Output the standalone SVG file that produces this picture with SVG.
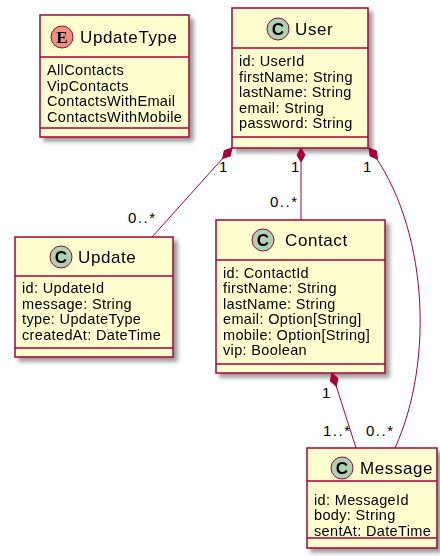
<svg xmlns="http://www.w3.org/2000/svg" width="440" height="556" viewBox="0 0 440 556">
  <defs>
    <filter id="shadow" x="-10%" y="-10%" width="130%" height="130%">
      <feGaussianBlur in="SourceAlpha" stdDeviation="2.2"/>
      <feOffset dx="4" dy="4" result="b"/>
      <feComponentTransfer><feFuncA type="linear" slope="0.4"/></feComponentTransfer>
      <feMerge><feMergeNode/><feMergeNode in="SourceGraphic"/></feMerge>
    </filter>
    <path id="diamond" d="M0,0 L7,-4 L14,0 L7,4 Z"/>
  </defs>
  <style>
    .box { fill: #FEFECE; stroke: #A80036; stroke-width: 1.5; }
    .sep { stroke: #A80036; stroke-width: 1.5; }
    .title { font-family: "Liberation Sans", Arial, sans-serif; font-size: 17px; letter-spacing: 0.6px; fill: #000; }
    .field { font-family: "Liberation Sans", Arial, sans-serif; font-size: 14.5px; letter-spacing: 0.35px; fill: #000; }
    .lbl { font-family: "Liberation Sans", Arial, sans-serif; font-size: 15px; letter-spacing: 1.5px; fill: #000; }
    .circC { fill: #ADD1B2; stroke: #A80036; stroke-width: 1; }
    .circE { fill: #EB937F; stroke: #A80036; stroke-width: 1; }
    .glyph { font-family: "Liberation Sans", Arial, sans-serif; font-size: 17px; font-weight: bold; fill: #000; text-anchor: middle; }
    .glyphE { font-family: "Liberation Serif", "Times New Roman", serif; font-size: 17px; font-weight: bold; fill: #000; text-anchor: middle; }
    .edge { fill: none; stroke: #A80036; stroke-width: 1; }
    .dia { fill: #A80036; stroke: #A80036; stroke-width: 1; }
  </style>

  <!-- enum UpdateType -->
  <g id="UpdateType" filter="url(#shadow)">
    <rect class="box" x="40" y="15" width="149" height="122"/>
    <circle class="circE" cx="62" cy="37" r="11"/>
    <text class="glyphE" x="62" y="43">E</text>
    <text class="title" x="80" y="43">UpdateType</text>
    <line class="sep" x1="40" y1="57" x2="189" y2="57"/>
    <text class="field" x="47" y="75">AllContacts</text>
    <text class="field" x="47" y="90.5">VipContacts</text>
    <text class="field" x="47" y="106">ContactsWithEmail</text>
    <text class="field" x="47" y="121.5">ContactsWithMobile</text>
    <line class="sep" x1="40" y1="128" x2="189" y2="128"/>
  </g>

  <!-- class User -->
  <g id="User" filter="url(#shadow)">
    <rect class="box" x="232" y="8" width="136" height="140"/>
    <circle class="circC" cx="278" cy="29" r="11"/>
    <text class="glyph" x="278" y="35">C</text>
    <text class="title" x="295" y="35">User</text>
    <line class="sep" x1="232" y1="48" x2="368" y2="48"/>
    <text class="field" x="239" y="66">id: UserId</text>
    <text class="field" x="239" y="81.5">firstName: String</text>
    <text class="field" x="239" y="97">lastName: String</text>
    <text class="field" x="239" y="112.5">email: String</text>
    <text class="field" x="239" y="128">password: String</text>
    <line class="sep" x1="232" y1="137" x2="368" y2="137"/>
  </g>

  <!-- class Update -->
  <g id="Update" filter="url(#shadow)">
    <rect class="box" x="15" y="237" width="158" height="120"/>
    <circle class="circC" cx="61" cy="257" r="11"/>
    <text class="glyph" x="61" y="263">C</text>
    <text class="title" x="78" y="263">Update</text>
    <line class="sep" x1="15" y1="276" x2="173" y2="276"/>
    <text class="field" x="22" y="293">id: UpdateId</text>
    <text class="field" x="22" y="308.5">message: String</text>
    <text class="field" x="22" y="324">type: UpdateType</text>
    <text class="field" x="22" y="339.5">createdAt: DateTime</text>
    <line class="sep" x1="15" y1="348" x2="173" y2="348"/>
  </g>

  <!-- class Contact -->
  <g id="Contact" filter="url(#shadow)">
    <rect class="box" x="216" y="220" width="169" height="153"/>
    <circle class="circC" cx="263" cy="240" r="11"/>
    <text class="glyph" x="263" y="246">C</text>
    <text class="title" x="285" y="246">Contact</text>
    <line class="sep" x1="216" y1="260" x2="385" y2="260"/>
    <text class="field" x="223" y="277.5">id: ContactId</text>
    <text class="field" x="223" y="293">firstName: String</text>
    <text class="field" x="223" y="308.5">lastName: String</text>
    <text class="field" x="223" y="324">email: Option[String]</text>
    <text class="field" x="223" y="339.5">mobile: Option[String]</text>
    <text class="field" x="223" y="355">vip: Boolean</text>
    <line class="sep" x1="216" y1="364" x2="385" y2="364"/>
  </g>

  <!-- class Message -->
  <g id="Message" filter="url(#shadow)">
    <rect class="box" x="307" y="448" width="130" height="100"/>
    <circle class="circC" cx="342" cy="468" r="11"/>
    <text class="glyph" x="342" y="474">C</text>
    <text class="title" x="360" y="474">Message</text>
    <line class="sep" x1="307" y1="481" x2="437" y2="481"/>
    <text class="field" x="314" y="504.5">id: MessageId</text>
    <text class="field" x="314" y="520">body: String</text>
    <text class="field" x="314" y="535.5">sentAt: DateTime</text>
    <line class="sep" x1="307" y1="538" x2="437" y2="538"/>
  </g>

  <!-- compositions -->
  <g id="connectors">
    <!-- User owns Update -->
    <line class="edge" x1="232" y1="148" x2="152" y2="237"/>
    <use href="#diamond" class="dia" transform="translate(232,148) rotate(131.95)"/>
    <text class="lbl" x="219" y="172">1</text>
    <text class="lbl" x="128" y="223">0..*</text>

    <!-- User owns Contact -->
    <line class="edge" x1="301" y1="148" x2="301" y2="220"/>
    <use href="#diamond" class="dia" transform="translate(301,148) rotate(90)"/>
    <text class="lbl" x="291" y="172">1</text>
    <text class="lbl" x="270" y="207">0..*</text>

    <!-- User owns Message -->
    <path class="edge" d="M369,148 C428,225 435,360 395,448"/>
    <use href="#diamond" class="dia" transform="translate(369,148) rotate(52.5)"/>
    <text class="lbl" x="363" y="172">1</text>
    <text class="lbl" x="366" y="436">0..*</text>

    <!-- Contact owns Message -->
    <line class="edge" x1="332" y1="373" x2="356" y2="448"/>
    <use href="#diamond" class="dia" transform="translate(332,373) rotate(72.3)"/>
    <text class="lbl" x="322" y="398">1</text>
    <text class="lbl" x="323" y="436">1..*</text>
  </g>
</svg>
